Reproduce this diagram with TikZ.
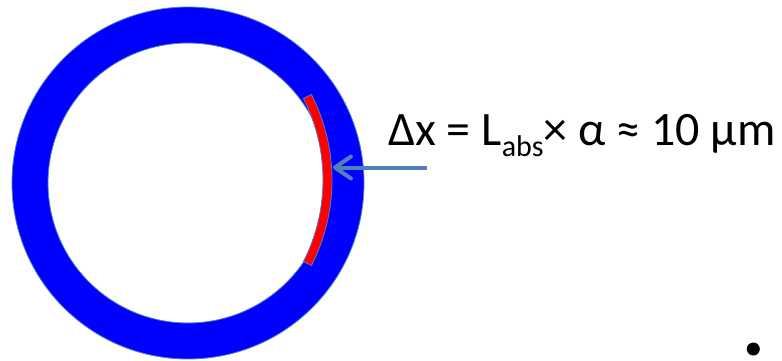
\documentclass[tikz,border=0pt]{standalone}
\usepackage{fontspec}
\setmainfont{Carlito}
\usetikzlibrary{arrows.meta,calc}
\definecolor{ringblue}{RGB}{0,0,255}
\definecolor{edgeblue}{RGB}{79,129,189}
\definecolor{bandred}{RGB}{255,0,0}
\tikzset{
  ring/.style={fill=ringblue, draw=edgeblue, line width=0.8pt, even odd rule},
  band/.style={fill=bandred, draw=edgeblue, line width=0.8pt},
  pointer/.style={draw=edgeblue, line width=4pt, -{Straight Barb[length=16pt,width=22pt,line cap=round,line join=round]}},
  label/.style={font=\fontsize{48}{52}\selectfont, inner sep=0pt, anchor=base west},
}
\begin{document}
\begin{tikzpicture}[x=1pt,y=-1pt]
\useasboundingbox (0,0) rectangle (782,361);
\coordinate (c) at (188,183);
\path[ring] (c) circle[radius=176] (c) circle[radius=140];
\coordinate (bc) at (143.5,180);
\path[band] ($(bc)+(-27:188.5)$) arc[start angle=-27, end angle=27, radius=188.5]
  -- ($(bc)+(27:179.5)$) arc[start angle=27, end angle=-27, radius=179.5] -- cycle;
\coordinate (src) at (427,167.5);
\coordinate (tip) at (333,167.5);
\draw[pointer] (src) -- (tip);
\node[label] (eq) at (388,145) {Δx = L\raisebox{-11pt}{\fontsize{30}{32}\selectfont abs}× α ≈ 10 μm};
\fill (753.3,349) circle[radius=6.5];
\end{tikzpicture}
\end{document}
